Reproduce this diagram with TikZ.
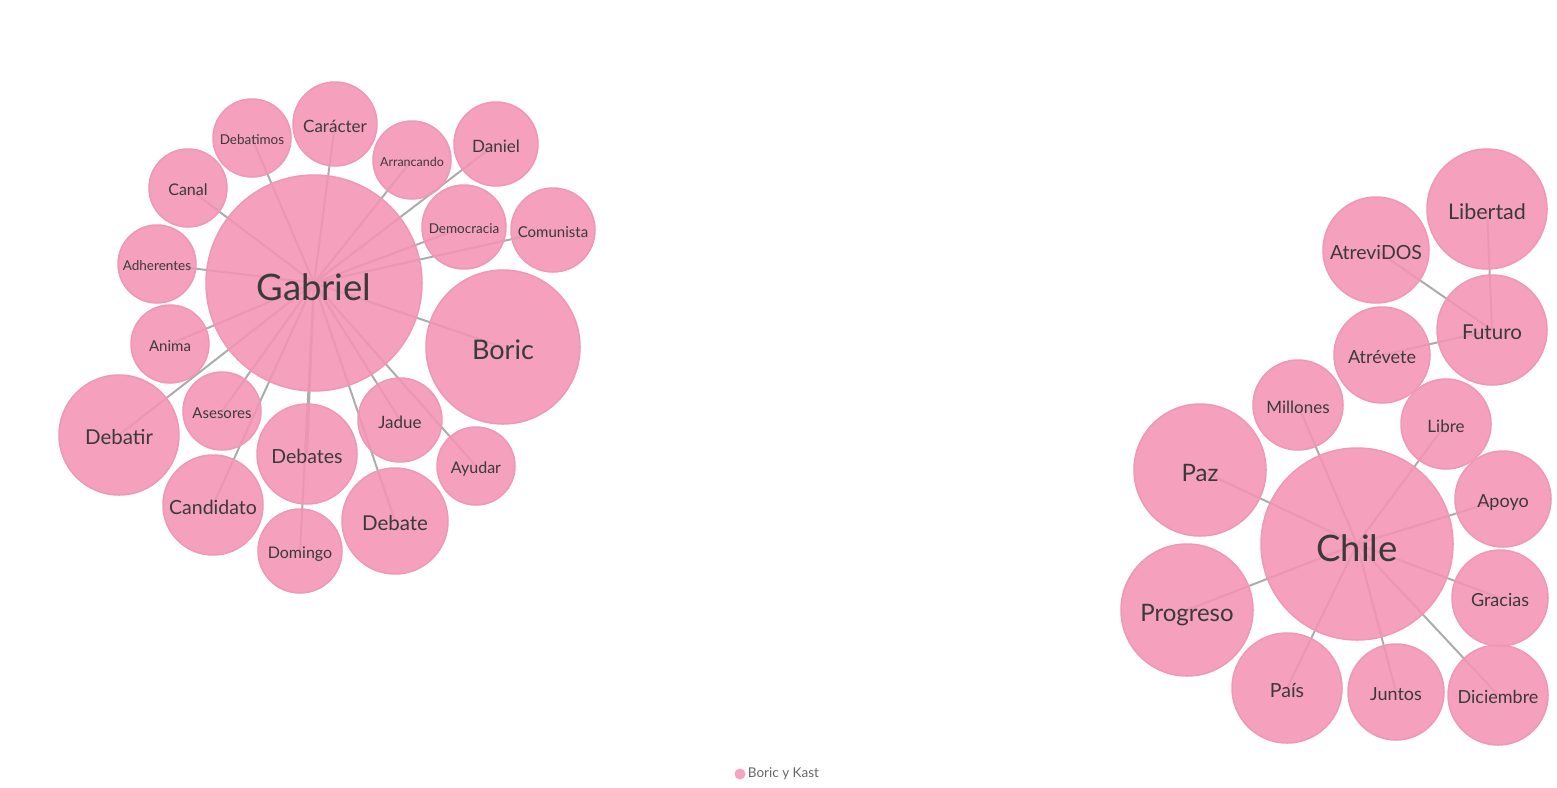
\documentclass[tikz,border=0pt]{standalone}
\usepackage{fontspec}
\setmainfont{Lato}
\usetikzlibrary{backgrounds}
\definecolor{bubble}{RGB}{244,147,179}
\definecolor{rim}{RGB}{240,150,182}
\definecolor{linkgray}{RGB}{172,172,172}
\definecolor{ink}{RGB}{58,58,58}

\begin{document}
\begin{tikzpicture}[x=1pt,y=-1pt,
    word/.style 2 args={circle,draw=rim,line width=1.5pt,fill=bubble,fill opacity=0.88,text opacity=1,text=ink,
        inner sep=0pt,minimum size=#1*2pt,/utils/exec={\pgfmathsetmacro\wordht{#2*0.96}},
        text height=\wordht pt,text depth=0pt,font=\fontsize{#2}{#2}\selectfont},
    link/.style={draw=linkgray,line width=2pt}]
    \useasboundingbox (0,0) rectangle (1557,787);
    % Gabriel
    \node[word={108}{36.5}] (gab) at (314,283) {Gabriel};
    \node[word={77}{27}] (bor) at (503,347) {Boric};
    \node[word={42}{17}] (car) at (335,124) {Carácter};
    \node[word={39}{13.5}] (deb) at (252,138) {Debatimos};
    \node[word={39}{16}] (can) at (188,188) {Canal};
    \node[word={39}{12.5}] (arr) at (412,160) {Arrancando};
    \node[word={42}{17}] (dan) at (496,144) {Daniel};
    \node[word={42}{13.5}] (dem) at (464,227) {Democracia};
    \node[word={42}{15}] (com) at (553,230) {Comunista};
    \node[word={39}{13.5}] (adh) at (157,264) {Adherentes};
    \node[word={39}{15}] (ani) at (170,344) {Anima};
    \node[word={60}{20.5}] (dtr) at (119,435) {Debatir};
    \node[word={39}{15}] (ase) at (222,411) {Asesores};
    \node[word={50}{19.5}] (dts) at (307,454) {Debates};
    \node[word={50}{19.5}] (cnd) at (213,505) {Candidato};
    \node[word={42}{16}] (dom) at (300,551) {Domingo};
    \node[word={53}{20.5}] (dbt) at (395,521) {Debate};
    \node[word={42}{17}] (jad) at (400,420) {Jadue};
    \node[word={39}{16}] (ayu) at (476,466) {Ayudar};
    % Chile
    \node[word={96}{36.5}] (chi) at (1357,544) {Chile};
    \node[word={60}{21.5}] (ltd) at (1487,209) {Libertad};
    \node[word={53}{19.5}] (atr) at (1376,250) {AtreviDOS};
    \node[word={55}{20.5}] (fut) at (1492,330) {Futuro};
    \node[word={48}{18}] (ate) at (1382,355) {Atrévete};
    \node[word={45}{17}] (mil) at (1298,405) {Millones};
    \node[word={45}{17}] (lib) at (1446,424) {Libre};
    \node[word={66}{24}] (paz) at (1200,470) {Paz};
    \node[word={48}{18}] (apo) at (1503,499) {Apoyo};
    \node[word={66}{24}] (pro) at (1187,610) {Progreso};
    \node[word={48}{18}] (gra) at (1500,598) {Gracias};
    \node[word={55}{19.5}] (pai) at (1287,688) {País};
    \node[word={48}{18}] (jun) at (1396,692) {Juntos};
    \node[word={50}{18}] (dic) at (1498,695) {Diciembre};
    % links
    \begin{scope}[on background layer]
        \foreach \w in {car,deb,can,arr,dan,dem,com,adh,ani,dtr,ase,dts,cnd,dom,dbt,jad,ayu,bor}
            \draw[link] (gab.center) -- (\w.center);
        \foreach \w in {paz,pro,pai,jun,dic,gra,apo,lib,mil}
            \draw[link] (chi.center) -- (\w.center);
        \foreach \w in {ltd,atr,ate}
            \draw[link] (fut.center) -- (\w.center);
    \end{scope}
    % legend
    \node[circle,fill=bubble!85,inner sep=0pt,minimum size=11pt] (dot) at (740,774) {};
    \node[anchor=west,inner sep=2pt,text=black!60,font=\fontsize{13.5}{13.5}\selectfont] (leg) at (dot.east) {Boric y Kast};
\end{tikzpicture}
\end{document}
